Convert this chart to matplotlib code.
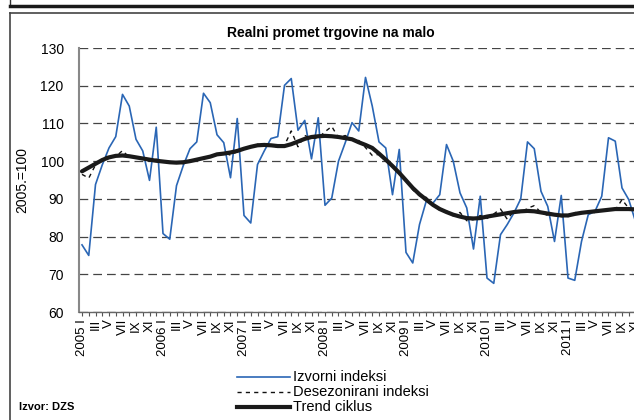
import matplotlib
matplotlib.use("Agg")
import matplotlib.pyplot as plt
from matplotlib.lines import Line2D

plt.rcParams['font.family'] = ['Liberation Sans', 'DejaVu Sans']

years = [2005, 2006, 2007, 2008, 2009, 2010, 2011]
months = ["I", "II", "III", "IV", "V", "VI", "VII", "VIII", "IX", "X", "XI", "XII"]

izvorni = [
    77.8, 75.0, 93.8, 99.0, 103.5, 106.5, 117.7, 114.6, 105.8, 102.7, 94.9, 109.0,
    80.8, 79.3, 93.5, 98.8, 103.3, 105.1, 118.0, 115.5, 107.0, 104.9, 95.6, 111.3,
    85.6, 83.6, 99.1, 102.7, 106.0, 106.5, 120.1, 121.9, 108.2, 110.8, 100.6, 111.5,
    88.3, 90.2, 100.0, 104.9, 110.2, 108.0, 122.2, 114.6, 105.1, 103.5, 91.1, 103.1,
    75.8, 73.0, 83.2, 89.4, 88.9, 91.1, 104.4, 100.0, 91.6, 87.6, 76.7, 90.7,
    69.0, 67.6, 80.5, 83.2, 86.3, 90.0, 105.1, 103.3, 92.0, 88.0, 78.7, 90.9,
    69.0, 68.4, 78.7, 85.8, 86.7, 90.7, 106.2, 105.3, 92.9, 89.8, 84.0,
]
desezonirani = [
    96.5, 95.5, 99.0, 100.5, 101.5, 101.2, 102.8, 101.0, 101.2, 100.5, 100.0, 100.5,
    100.2, 99.4, 99.8, 99.3, 100.3, 100.6, 100.6, 101.4, 101.3, 102.2, 101.6, 102.5,
    103.2, 103.9, 104.5, 103.9, 104.4, 103.6, 104.2, 108.0, 103.8, 106.8, 106.0, 106.2,
    107.8, 109.2, 106.2, 106.8, 105.6, 105.5, 103.6, 101.5, 101.8, 100.2, 98.8, 96.6,
    95.3, 92.4, 90.8, 90.4, 88.2, 87.0, 86.8, 85.5, 86.4, 84.2, 84.5, 85.6,
    84.8, 86.0, 87.3, 84.6, 86.8, 86.3, 87.5, 88.2, 86.4, 85.6, 86.0, 85.3,
    85.3, 86.4, 86.0, 86.8, 86.3, 87.0, 87.2, 87.0, 89.8, 87.5, 87.0,
]
trend = [
    97.3, 98.3, 99.3, 100.3, 101.0, 101.4, 101.5, 101.3, 101.0, 100.7, 100.4, 100.1,
    99.9, 99.7, 99.6, 99.7, 100.0, 100.4, 100.8, 101.2, 101.8, 102.0, 102.3, 102.7,
    103.3, 103.8, 104.2, 104.3, 104.2, 104.0, 104.0, 104.5, 105.2, 105.9, 106.4, 106.6,
    106.7, 106.6, 106.4, 106.1, 105.8, 105.0, 104.3, 103.5, 102.0, 100.4, 98.7, 96.9,
    94.9, 92.9, 91.2, 89.8, 88.4, 87.3, 86.5, 85.8, 85.3, 84.9, 84.8, 84.9,
    85.3, 85.6, 85.9, 86.2, 86.5, 86.7, 86.8, 86.7, 86.4, 86.1, 85.8, 85.6,
    85.6, 86.0, 86.3, 86.5, 86.7, 86.9, 87.1, 87.3, 87.3, 87.3, 87.2,
]
y_ticks = [60, 70, 80, 90, 100, 110, 120, 130]
series_names = ["Izvorni indeksi", "Desezonirani indeksi", "Trend ciklus"]

W, H = 634, 420
fig = plt.figure(figsize=(W / 100, H / 100), dpi=100)

def fx(x):
    return x / W

def fy(y):
    return 1 - y / H

# axes: left at x=79, bottom y=312, top y=48; 6.75 px per month, month 0 at x=82
x0 = -3 / 6.75
x1 = 84.0
ax_w_px = (x1 - x0) * 6.75
ax = fig.add_axes([fx(79), fy(312), ax_w_px / W, (312 - 48) / H])

blue = '#2a66b5'
styles = [
    dict(color=blue, lw=1.2, ls='-'),
    dict(color='#111111', lw=1.0, ls=(0, (3, 3))),
    dict(color='#1a1a1a', lw=3.0, ls='-', solid_capstyle='round'),
]

n = len(izvorni)
xs = list(range(n))
for data, st, z in zip([izvorni, desezonirani, trend], styles, [3, 4, 5]):
    ax.plot(xs, data, zorder=z, **st)

ax.set_xlim(x0, x1)
ax.set_ylim(60, 130)
ax.set_yticks(y_ticks)
ax.yaxis.grid(True, color='#444444', ls=(0, (7, 4)), lw=0.9)
ax.set_axisbelow(True)

nticks = 84
ax.set_xticks(range(nticks))
labels = []
for i in range(nticks):
    yr = years[i // 12]
    m = i % 12
    if m == 0:
        labels.append(f"{yr} {months[m]}")
    elif m % 2 == 0:
        labels.append(months[m])
    else:
        labels.append("")
ax.set_xticklabels(labels, rotation=90, fontsize=9.5)
ax.tick_params(axis='x', direction='out', length=3, width=0.8, color='#555555', pad=2)
ax.tick_params(axis='y', length=0, labelsize=10, pad=11)

for s in ['top', 'right']:
    ax.spines[s].set_visible(False)
ax.spines['left'].set_color('#888888')
ax.spines['left'].set_linewidth(1.5)
ax.spines['bottom'].set_color('#666666')
ax.spines['bottom'].set_linewidth(1.0)

fig.text(fx(22), fy(180), '2005.=100', rotation=90, ha='center', va='center', fontsize=10)

fig.text(fx(331), fy(33), 'Realni promet trgovine na malo', ha='center', va='center',
         fontsize=10, fontweight='bold')

fig.text(fx(19), fy(407), 'Izvor: DZS', ha='left', va='center', fontsize=8, fontweight='bold')

# legend drawn manually below the plot
leg_y = [377, 392, 407]
for name, st, yy in zip(series_names, styles, leg_y):
    fig.add_artist(Line2D([fx(237), fx(290)], [fy(yy), fy(yy)], transform=fig.transFigure,
                          **{k: v for k, v in st.items() if k != 'solid_capstyle'}))
    fig.text(fx(293), fy(yy), name, ha='left', va='center', fontsize=10.5)

# frame lines
fig.add_artist(Line2D([fx(10), fx(10)], [fy(0), fy(5)], color='#333333', lw=1.0))
fig.add_artist(Line2D([fx(10), fx(634)], [fy(5.5), fy(5.5)], color='#1a1a1a', lw=2.5))
fig.add_artist(Line2D([fx(10), fx(634)], [fy(13), fy(13)], color='#444444', lw=1.2))
fig.add_artist(Line2D([fx(10), fx(10)], [fy(13), fy(420)], color='#444444', lw=1.2))

fig.savefig('out.png', dpi=100)
